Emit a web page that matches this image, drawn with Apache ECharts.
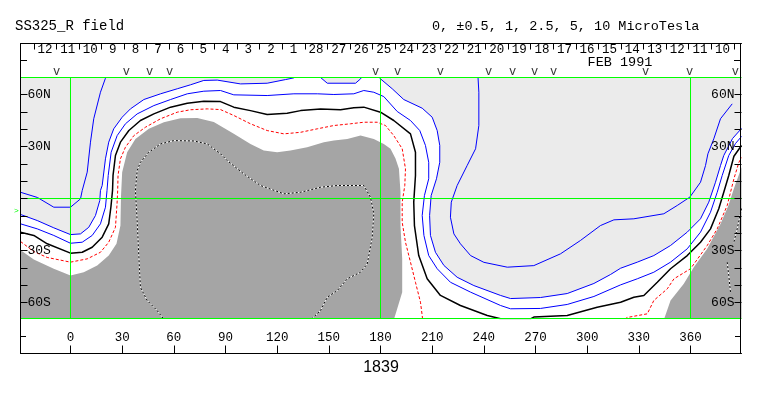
<!DOCTYPE html>
<html>
<head>
<meta charset="utf-8">
<script src="https://cdn.jsdelivr.net/npm/echarts@6.0.0/dist/echarts.min.js"></script>
<style>html,body{margin:0;padding:0;background:#fff;}#c{width:763px;height:396px;}</style>
</head>
<body>
<div id="c"></div>
<script>
// ---- tick / label data ----
const DAY_LABELS = ['12','11','10','9','8','7','6','5','4','3','2','1','28','27','26','25','24','23','22','21','20','19','18','17','16','15','14','13','12','11','10'];
const DAY_TICKS = [0,1,2,3,4,5,6,7,8,9,10,11,12,13,14,15,16,17,18,19,20,21,22,23,24,25,26,27,28,29,30,31];
const DAY_LABEL_POS = [0.5,1.5,2.5,3.5,4.5,5.5,6.5,7.5,8.5,9.5,10.5,11.5,12.5,13.5,14.5,15.5,16.5,17.5,18.5,19.5,20.5,21.5,22.5,23.5,24.5,25.5,26.5,27.5,28.5,29.5,30.5];
const LON_TICKS = [0,30,60,90,120,150,180,210,240,270,300,330,360];
const LAT_TICKS = [-60,-50,-40,-30,-20,-10,0,10,20,30,40,50,60];
const LAT_LABELS = [-60,-30,30,60];
const GREEN_LON = [0,180,360];
const GREEN_LAT = [0,69.8,-69.2];
const V_MARKS = [-8.1,32.5,45.9,57.5,177.1,189.9,214.8,242.7,256.7,269.5,280.5,333.9,359.4,386.1];

// ---- contour lines [lon, lat] ----
const LINE_M05_A = [[-29,3.6],[-19.2,0.6],[-9.7,-5],[0,-5],[5.8,-0.2],[6.8,4.6],[9.7,15.2],[11.6,32.5],[13.5,46],[17.4,61.3],[20.3,69.4],[20.9,71.5]];
const LINE_M05_B = [[236.5,72],[237.1,61.3],[237.1,42.1],[235.2,28.7],[230.3,19.0],[224.5,7.5],[221.1,-2.1],[220.6,-10.8],[222.6,-20.4],[226.4,-26.1],[232.3,-32.9],[240.0,-36.8],[253.6,-39.6],[269.0,-38.7],[284.5,-31.9],[296.1,-24.2],[307.7,-15.6],[315.5,-12.3],[327.1,-11.7],[344.5,-8.8],[352.3,-4.0],[359.6,0.8],[365.8,9.4],[368.7,19.0],[370.1,25.8],[373.5,34.4],[377.4,46.0],[384.2,54.6]];
const LINE_0 = [[-29,-9.2],[-19.3,-12.7],[-9.7,-16.9],[0,-20.8],[5.8,-20.4],[10.6,-16.6],[14.5,-9.8],[17.0,-1.2],[17.4,4.6],[18.4,7.5],[20.3,22.9],[22.2,32.5],[25.1,40.2],[30.0,46.9],[34.8,51.7],[42.6,57.1],[52.3,60.4],[62.0,63.3],[69.7,65.6],[77.4,68.1],[85.2,68.3],[98.7,66.1],[114.2,66.5],[124.8,68.6],[129.7,69.6],[133.6,72.1],[142.3,72.1],[145.2,69.8],[149.1,66.5],[165.5,66.5],[168.4,69.0],[170.1,71.5],[177.7,71.5],[180.0,69.0],[186.8,63.3],[193.5,57.1],[204.2,52.1],[210.0,46.9],[212.9,39.2],[214.4,30.6],[214.4,20.9],[212.5,11.4],[209.4,1.7],[208.5,-9.8],[209.0,-21.3],[211.9,-31.0],[216.8,-38.6],[224.5,-45.4],[234.2,-50.2],[249.7,-55.9],[255.5,-57.7],[272.9,-57.1],[288.4,-54.8],[303.9,-49.0],[313.6,-43.8],[319.4,-40.2],[329.1,-36.7],[338.7,-32.9],[348.4,-27.1],[358.1,-19.4],[365.8,-11.7],[370.6,-2.1],[374.5,9.4],[377.4,19.0],[379.3,24.8],[384.4,34.6],[389.6,40.4]];
const LINE_P05 = [[-29,-14.6],[-19.3,-17.5],[-9.7,-21.3],[0,-25.8],[6.8,-25.2],[12.6,-21.3],[17.4,-14.6],[20.3,-5.0],[21.2,4.6],[21.9,13.3],[23.6,26.7],[27.1,36.3],[31.9,43.1],[38.7,48.8],[48.4,53.6],[58.1,57.1],[67.8,60.4],[77.4,61.9],[87.1,62.3],[94.8,59.8],[114.2,59.4],[129.7,60.4],[143.3,60.4],[152.9,60.0],[164.5,60.4],[170.3,62.3],[176.1,61.3],[181.9,58.8],[189.7,50.2],[197.4,45.0],[202.8,39.2],[206.1,30.6],[208.0,20.9],[208.0,11.4],[205.5,1.7],[204.2,-9.8],[205.2,-21.3],[208.0,-32.9],[212.9,-40.5],[220.6,-48.3],[232.3,-54.0],[249.7,-61.7],[255.5,-63.6],[272.9,-63.4],[288.4,-61.1],[303.9,-56.5],[319.4,-49.8],[329.1,-46.3],[338.7,-42.5],[348.4,-36.7],[358.1,-29.0],[365.8,-19.4],[371.6,-7.9],[375.5,3.6],[378.4,13.3],[382.2,24.8],[386.1,31.7],[389.6,35.8]];
const LINE_1 = [[-29,-19.4],[-21.3,-21.3],[-13.5,-26.1],[0,-31.5],[6.8,-31.0],[12.6,-28.1],[18.4,-22.3],[22.2,-14.6],[23.5,-4.6],[24.4,4.6],[24.7,13.3],[26.1,24.8],[29.0,32.5],[33.9,39.2],[40.6,45.0],[48.4,48.8],[58.1,52.7],[67.8,55.0],[77.4,56.1],[87.1,55.9],[94.8,52.7],[104.5,50.7],[114.2,48.4],[125.8,49.2],[133.6,50.7],[145.2,51.7],[156.8,51.2],[164.5,52.3],[170.3,52.7],[180.0,49.8],[187.7,45.0],[197.4,37.3],[200.3,26.7],[200.3,13.3],[199.3,-2.1],[199.7,-15.6],[202.2,-32.9],[207.1,-46.3],[214.8,-55.9],[226.4,-61.7],[242.0,-67.5],[249.7,-69.4],[267.1,-69.4],[269.0,-68.4],[288.4,-67.5],[305.8,-62.7],[319.4,-59.8],[327.1,-56.9],[332.9,-55.9],[340.7,-48.3],[348.4,-40.5],[358.1,-32.9],[365.8,-25.2],[371.6,-17.5],[376.4,-5.9],[379.3,3.6],[382.2,13.3],[385.2,24.4],[389.6,30.6]];
const LINE_25_A = [[-29,-24.8],[-21.3,-30.6],[-13.5,-34.0],[0,-36.7],[9.7,-34.8],[17.4,-31.0],[22.2,-25.2],[26.1,-16.6],[27.0,-3.5],[27.4,4.6],[27.6,13.3],[29.0,22.9],[31.9,29.6],[36.8,36.3],[43.5,41.1],[52.3,46.0],[62.0,49.8],[69.7,51.2],[79.4,51.7],[87.1,51.3],[94.8,47.9],[104.5,43.1],[114.2,39.2],[123.9,37.3],[133.6,38.2],[143.3,40.2],[152.9,42.1],[162.6,43.1],[170.3,44.0],[178.1,44.0],[182.9,42.1],[187.7,36.3],[192.6,28.7],[194.5,17.1],[194.1,7.5],[192.6,-2.1],[192.6,-13.7],[194.5,-25.2],[197.4,-36.7],[200.3,-48.3],[203.2,-59.8],[204.2,-67.5],[204.6,-71]];
const LINE_25_B = [[319.4,-71],[323.3,-68.6],[334.9,-66.5],[338.7,-58.8],[346.5,-52.1],[350.4,-46.3],[360.0,-40.5],[369.7,-27.1],[375.5,-17.5],[381.3,-4.0],[385.2,11.4],[388.1,20.9],[389.6,23.6]];
const LINE_10_A = [[55.2,-71],[50.3,-64.6],[44.5,-58.8],[40.6,-51.2],[39.7,-33.9],[38.7,-12.7],[37.7,4.6],[38.7,16.1],[40.6,20.9],[45.5,26.7],[52.3,31.5],[59.9,33.4],[71.6,33.2],[79.4,31.5],[87.1,25.8],[91.0,21.9],[100.6,14.2],[110.3,7.5],[123.9,2.7],[133.6,3.6],[145.2,6.5],[154.9,7.5],[170.3,7.5],[174.2,0.7],[176.1,-8.8],[175.2,-22.3],[172.3,-37.7],[168.4,-42.5],[160.7,-46.3],[154.9,-53.1],[149.1,-56.9],[145.2,-64.6],[138.4,-71]];
const LINE_10_B = [[389.6,-5.8],[387.1,-17.5],[385.2,-25.2]];
const LINE_10_C = [[381.3,-36.7],[382.2,-44.4],[383.2,-54.0]];

// ---- filled regions [lon, lat] ----
const GRAY_MAIN = [[-31,-75],[-31,-28.3],[-21.3,-35.2],[-9.7,-40.5],[0,-44.4],[7.7,-42.5],[15.5,-38.6],[22.2,-32.9],[26.7,-26.1],[29.0,-15.6],[29.3,0.7],[30.0,15.2],[32.9,26.7],[37.7,34.4],[45.5,40.2],[54.2,44.0],[63.9,46.3],[73.6,46.5],[83.2,44.1],[94.8,37.3],[104.5,31.5],[112.2,27.7],[120.0,26.7],[127.7,27.7],[137.4,29.6],[147.1,32.5],[152.9,33.4],[160.7,34.4],[168.4,36.3],[176.1,34.4],[181.9,31.5],[185.8,28.7],[188.7,23.1],[190.7,17.1],[191.6,3.6],[191.6,-15.6],[192.6,-34.8],[192.6,-54.0],[189.7,-63.6],[187.7,-70],[187.7,-75]];
const GRAY_RIGHT = [[344.5,-75],[344.5,-70],[348.4,-58.8],[356.1,-49.2],[361.9,-39.6],[369.7,-29.0],[377.4,-14.7],[382.0,-4.0],[385.2,5.8],[389.6,17.9],[392,17.9],[392,-75]];
const LIGHT_REGION = [[-31,75],[-31,-9.2]].concat(LINE_0).concat([[392,40.4],[392,75]]);

const FONT = 'Liberation Mono';
const BLUE = '#0000ff';
const GREEN = '#00ff00';

function polySeries(name, pts, color) {
  return {
    name: name, type: 'custom', coordinateSystem: 'cartesian2d', z: 1, silent: true,
    data: pts, encode: {x: 0, y: 1},
    renderItem: function (params, api) {
      if (params.dataIndex !== 0) return;
      const cs = params.coordSys;
      return {
        type: 'polygon',
        shape: {points: pts.map(function (p) { return api.coord(p); })},
        style: {fill: color, stroke: null},
        clipPath: {type: 'rect', shape: {x: cs.x, y: cs.y, width: cs.width, height: cs.height}}
      };
    }
  };
}
function lineSeries(name, pts, color, width, type, z) {
  return {
    name: name, type: 'line', data: pts, showSymbol: false, symbol: 'none', silent: true,
    clip: true, z: z || 3,
    lineStyle: {color: color, width: width, type: type || 'solid'}
  };
}
function latFmt(v) { return v > 0 ? v + 'N' : (v < 0 ? (-v) + 'S' : 'EQ'); }

const greenSeries = [];
GREEN_LAT.forEach(function (lat, i) {
  greenSeries.push(Object.assign(lineSeries('glat' + i, [[-29.03, lat], [389.6, lat]], GREEN, 1, 'solid', 6), {clip: false}));
});
GREEN_LON.forEach(function (lon, i) {
  greenSeries.push(Object.assign(lineSeries('glon' + i, [[lon, -69.2], [lon, 69.8]], GREEN, 1, 'solid', 6), {clip: false}));
});

const chart = echarts.init(document.getElementById('c'), null, {renderer: 'canvas'});
const yCommon = {
  type: 'value', min: -69.2, max: 69.8, z: 10,
  axisLine: {show: false, onZero: false},
  splitLine: {show: false},
  axisTick: {show: true, inside: true, length: 7, customValues: LAT_TICKS, lineStyle: {color: '#000'}},
  axisLabel: {inside: true, margin: 7, customValues: LAT_LABELS, formatter: latFmt, fontFamily: FONT, fontSize: 13, color: '#000'}
};
chart.setOption({
  animation: false,
  backgroundColor: '#fff',
  title: [
    {text: 'SS325_R field', left: 15, top: 19, padding: 0, textStyle: {fontFamily: FONT, fontSize: 14, fontWeight: 'normal', color: '#000'}},
    {text: '0, ±0.5, 1, 2.5, 5, 10 MicroTesla', left: 432, top: 19, padding: 0, textStyle: {fontFamily: FONT, fontSize: 13.5, fontWeight: 'normal', color: '#000'}}
  ],
  grid: {left: 20.5, right: 21.5, top: 77.5, bottom: 77.5, containLabel: false},
  xAxis: [
    {
      type: 'value', min: -29.03, max: 389.6, position: 'bottom', offset: 35, z: 10,
      axisLine: {show: true, onZero: false, lineStyle: {color: '#000'}},
      splitLine: {show: false},
      axisTick: {show: true, inside: true, length: 8, customValues: LON_TICKS, lineStyle: {color: '#000'}},
      axisLabel: {inside: true, margin: 9, customValues: LON_TICKS, fontFamily: FONT, fontSize: 12.5, color: '#000'},
      name: '1839', nameLocation: 'middle', nameGap: 6,
      nameTextStyle: {fontFamily: 'Liberation Sans', fontSize: 16, color: '#000', verticalAlign: 'top'}
    },
    {
      type: 'value', min: -0.589, max: 31.34, position: 'top', offset: 34, z: 10,
      axisLine: {show: true, onZero: false, lineStyle: {color: '#000'}},
      splitLine: {show: false},
      axisTick: {show: true, inside: true, length: 6, customValues: DAY_TICKS, lineStyle: {color: '#000'}},
      axisLabel: {inside: true, margin: 0, customValues: DAY_LABEL_POS, fontFamily: FONT, fontSize: 12.5, color: '#000',
        formatter: function (v) { return DAY_LABELS[Math.round(v - 0.5)]; }}
    }
  ],
  yAxis: [
    Object.assign({position: 'left'}, yCommon),
    Object.assign({position: 'right'}, yCommon)
  ],
  series: [
    polySeries('neg', LIGHT_REGION, '#ebebeb'),
    polySeries('gt5a', GRAY_MAIN, '#a5a5a5'),
    polySeries('gt5b', GRAY_RIGHT, '#a5a5a5'),
    lineSeries('m05a', LINE_M05_A, BLUE, 1),
    lineSeries('m05b', LINE_M05_B, BLUE, 1),
    lineSeries('zero', LINE_0, BLUE, 1),
    lineSeries('p05', LINE_P05, BLUE, 1),
    lineSeries('one', LINE_1, '#000', 1.5),
    lineSeries('r25a', LINE_25_A, '#ff0000', 1, [3, 2]),
    lineSeries('r25b', LINE_25_B, '#ff0000', 1, [3, 2]),
    lineSeries('t10aw', LINE_10_A, '#fff', 1),
    lineSeries('t10ab', LINE_10_A, '#000', 1, [2, 2], 4),
    lineSeries('t10bw', LINE_10_B, '#fff', 1),
    lineSeries('t10bb', LINE_10_B, '#000', 1, [2, 2], 4),
    lineSeries('t10cw', LINE_10_C, '#fff', 1),
    lineSeries('t10cb', LINE_10_C, '#000', 1, [2, 2], 4)
  ].concat(greenSeries).concat([
    {
      name: 'marks', type: 'scatter', symbolSize: 0, clip: false, z: 7, silent: true,
      data: V_MARKS.map(function (v) { return [v, 69.8]; }),
      label: {show: true, position: 'inside', offset: [0, -6], formatter: 'v', fontFamily: FONT, fontSize: 12, color: '#000'}
    }
  ]),
  graphic: [
    {type: 'rect', z: 100, silent: true, shape: {x: 20.5, y: 43.5, width: 720, height: 310}, style: {fill: null, stroke: '#000', lineWidth: 1}},
    {type: 'line', z: 100, silent: true, shape: {x1: 20, y1: 60.5, x2: 27, y2: 60.5}, style: {stroke: '#000', lineWidth: 1}},
    {type: 'line', z: 100, silent: true, shape: {x1: 734, y1: 60.5, x2: 741, y2: 60.5}, style: {stroke: '#000', lineWidth: 1}},
    {type: 'line', z: 100, silent: true, shape: {x1: 20, y1: 336.5, x2: 26, y2: 336.5}, style: {stroke: '#000', lineWidth: 1}},
    {type: 'line', z: 100, silent: true, shape: {x1: 735, y1: 336.5, x2: 741, y2: 336.5}, style: {stroke: '#000', lineWidth: 1}},
    {type: 'text', z: 100, silent: true, x: 620, y: 62.5, style: {text: 'FEB 1991', font: '13.5px "Liberation Mono"', fill: '#000', align: 'center', verticalAlign: 'middle'}},
    {type: 'text', z: 100, silent: true, x: 16.5, y: 211, style: {text: '>', font: '8px "Liberation Mono"', fill: '#00ff00', align: 'center', verticalAlign: 'middle'}}
  ]
});
</script>
</body>
</html>
